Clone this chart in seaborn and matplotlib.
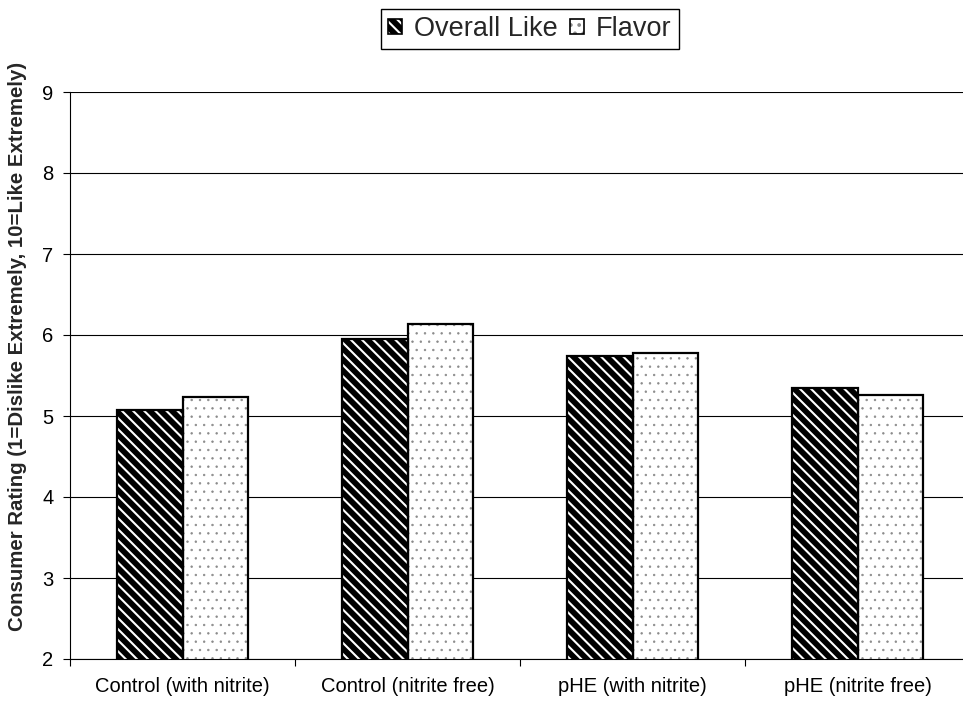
import matplotlib
matplotlib.use("Agg")
import matplotlib.pyplot as plt
from matplotlib.patches import Patch
import pandas as pd
import seaborn as sns

# Treatments and mean consumer ratings
categories = ["Control (with nitrite)", "Control (nitrite free)",
              "pHE (with nitrite)", "pHE (nitrite free)"]
series_names = ["Overall Like", "Flavor"]
overall_like = [5.07, 5.95, 5.74, 5.35]
flavor = [5.23, 6.14, 5.78, 5.26]
y_ticks = [2, 3, 4, 5, 6, 7, 8, 9]

df = pd.DataFrame({
    "treatment": categories * 2,
    "series": [series_names[0]] * len(categories) + [series_names[1]] * len(categories),
    "rating": overall_like + flavor,
})

sns.set_theme(style="white")
plt.rcParams["font.family"] = ["Liberation Sans", "DejaVu Sans"]
plt.rcParams["hatch.linewidth"] = 1.5

STRIPES = "\\\\\\"
DOTS = ".."
DOT_COLOR = "#8a8a8a"

W, H = 963, 704
fig = plt.figure(figsize=(W / 100, H / 100), dpi=100)
ax = fig.add_axes([70 / W, 1 - 659 / H, 900 / W, 567 / H])

bar_w = 0.58
# hatched fill layer
sns.barplot(data=df, x="treatment", y="rating", hue="series", order=categories,
            hue_order=series_names, palette=["black", "white"], width=bar_w,
            errorbar=None, legend=False, ax=ax, linewidth=0, saturation=1)
fill_overall, fill_flavor = ax.containers[0], ax.containers[1]
for p in fill_overall:
    p.set_facecolor("black")
    p.set_edgecolor("white")
    p.set_linewidth(0)
    p.set_hatch(STRIPES)
for p in fill_flavor:
    p.set_facecolor("white")
    p.set_edgecolor(DOT_COLOR)
    p.set_linewidth(0)
    p.set_hatch(DOTS)
    if hasattr(p, "set_hatch_linewidth"):
        p.set_hatch_linewidth(0.5)

# outline layer
sns.barplot(data=df, x="treatment", y="rating", hue="series", order=categories,
            hue_order=series_names, palette=["black", "black"], width=bar_w,
            errorbar=None, legend=False, ax=ax, fill=False, linewidth=1.6)

ax.set_ylim(2, 9)
ax.set_xlim(-0.5, 3.5)
ax.set_yticks(y_ticks)
ax.set_xlabel("")
ax.set_ylabel("")
ax.yaxis.grid(True, color="black", linewidth=0.8)
ax.xaxis.grid(False)
ax.set_axisbelow(True)
for s in ["top", "right"]:
    ax.spines[s].set_visible(False)
for s in ["left", "bottom"]:
    ax.spines[s].set_color("black")
    ax.spines[s].set_linewidth(0.8)

ax.set_xticks([-0.5, 0.5, 1.5, 2.5, 3.5], minor=True)
ax.tick_params(axis="x", which="major", length=0, pad=13, labelsize=14.5, colors="black")
ax.tick_params(axis="x", which="minor", length=5, width=0.8, direction="out",
               color="black", bottom=True)
ax.tick_params(axis="y", which="major", length=5, width=0.8, direction="out",
               left=True, pad=7, labelsize=14.5, colors="black")

fig.text(18 / W, 1 - 346 / H,
         "Consumer Rating (1=Dislike Extremely, 10=Like Extremely)",
         rotation=90, ha="center", va="center", fontsize=14.7, fontweight="bold")

handles = [
    (Patch(facecolor="black", edgecolor="white", hatch=STRIPES, linewidth=0),
     Patch(facecolor="none", edgecolor="black", linewidth=1.2)),
    (Patch(facecolor="white", edgecolor=DOT_COLOR, hatch=DOTS, linewidth=0),
     Patch(facecolor="none", edgecolor="black", linewidth=1.2)),
]
leg = fig.legend(handles, series_names, loc="center",
                 bbox_to_anchor=(530 / W, 1 - 29 / H), ncol=2, frameon=True,
                 fancybox=False, edgecolor="black", fontsize=19.5,
                 handlelength=0.5, handleheight=0.5, handletextpad=0.45,
                 columnspacing=0.45, borderpad=0.26, borderaxespad=0)
leg.get_frame().set_linewidth(1.0)
leg.get_frame().set_alpha(1)

fig.savefig("out.png", dpi=100, facecolor="white")
